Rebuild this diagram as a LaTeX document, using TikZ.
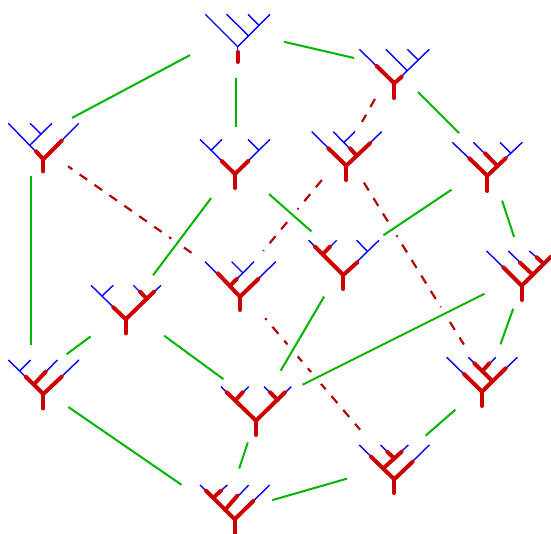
\documentclass[tikz,border=0pt]{standalone}
\usepackage{tikz}
\definecolor{leafblue}{RGB}{0,0,255}
\definecolor{trunkred}{RGB}{204,0,0}
\definecolor{hiddenred}{RGB}{176,0,0}
\definecolor{edgegreen}{RGB}{0,180,0}
\tikzset{leaf/.style = {draw=leafblue, line width=1.05pt}}
\tikzset{trunk/.style = {draw=trunkred, line width=3pt, line cap=round, line join=round}}
\tikzset{gap/.style 2 args = {shorten <=#1*0.75pt, shorten >=#2*0.75pt}}
\tikzset{front/.style = {draw=edgegreen, line width=1.5pt, preaction={draw=white, line width=11pt}}}
\tikzset{hidden/.style = {draw=hiddenred, line width=1.6pt, dash pattern=on 6.9pt off 6.75pt}}

\begin{document}
\begin{tikzpicture}[x=0.75pt, y=-0.75pt]
      \useasboundingbox (0, 0) rectangle (551, 534);

      \coordinate (top) at (236, 30.7);
      \coordinate (upright) at (393, 67);
      \coordinate (midtop) at (236, 165);
      \coordinate (back) at (345, 152);
      \coordinate (upleft) at (30.5, 140);
      \coordinate (farright) at (490, 164);
      \coordinate (midleft) at (127.7, 309);
      \coordinate (centre) at (236, 284);
      \coordinate (midright) at (345, 261);
      \coordinate (edgeright) at (526, 273);
      \coordinate (lowleft) at (30.5, 381);
      \coordinate (mid) at (260, 406);
      \coordinate (bottom) at (224, 514);
      \coordinate (lowmid) at (391, 466);
      \coordinate (lowright) at (487, 382);

      % hidden edges
      \draw [hidden, gap={36.7}{34.5}] (upright) -- (back);
      \draw [hidden, gap={36.4}{42.8}] (back) -- (centre);
      \draw [hidden, gap={36}{44}] (back) -- (lowright);
      \draw [hidden, dash phase=3pt, gap={45.8}{47}] (upleft) -- (centre);
      \draw [hidden, dash phase=5.25pt, gap={45}{47.6}] (centre) -- (lowmid);

      % front edges
      \draw [front, gap={49.3}{40}] (top) -- (upright);
      \draw [front, gap={47.3}{38}] (top) -- (midtop);
      \draw [front, gap={52}{47}] (top) -- (upleft);
      \draw [front, gap={35.4}{43.8}] (upright) -- (farright);
      \draw [front, gap={41.4}{42.2}] (midtop) -- (midleft);
      \draw [front, gap={44}{44.8}] (midtop) -- (midright);
      \draw [front, gap={36}{36}] (upleft) -- (lowleft);
      \draw [front, gap={46.2}{45}] (midleft) -- (lowleft);
      \draw [front, gap={45.2}{45.4}] (midleft) -- (mid);
      \draw [front, gap={46.3}{46.3}] (midright) -- (farright);
      \draw [front, gap={41.3}{41}] (midright) -- (mid);
      \draw [front, gap={38.6}{38.1}] (farright) -- (edgeright);
      \draw [front, gap={38}{40}] (edgeright) -- (lowright);
      \draw [front, gap={46.5}{47.6}] (edgeright) -- (mid);
      \draw [front, gap={46}{51.6}] (lowleft) -- (bottom);
      \draw [front, gap={38.5}{48}] (mid) -- (bottom);
      \draw [front, gap={50}{45.8}] (bottom) -- (lowmid);
      \draw [front, gap={46}{42}] (lowmid) -- (lowright);

      % trees, top to bottom
      \draw [leaf] (205.3, 14.3) -- (237.7, 46.7) -- (270, 14.3);
      \draw [leaf] (226.7, 14.3) -- (248.3, 35.7);
      \draw [leaf] (248, 14.3) -- (258.7, 25);
      \draw [leaf] (237.7, 46.7) -- (237.7, 51);
      \draw [trunk] (237.7, 52) -- (237.7, 62);

      \draw [leaf] (359.3, 49.3) -- (394.3, 83.3) -- (429.3, 49.3);
      \draw [leaf] (386, 49.3) -- (407.3, 70.7);
      \draw [leaf] (407.3, 49.3) -- (418.3, 60);
      \draw [trunk] (376.7, 66) -- (394.3, 83.3) -- (401.7, 76.7);
      \draw [trunk] (394.3, 83.3) -- (394.3, 98);

      \draw [leaf] (200, 139.3) -- (235, 174) -- (270, 139.3);
      \draw [leaf] (222, 139.3) -- (211, 150.3);
      \draw [leaf] (248, 139.3) -- (259, 150.3);
      \draw [trunk] (221.7, 161) -- (235, 174) -- (248.3, 161);
      \draw [trunk] (235, 174) -- (235, 188);

      \draw [leaf] (311.7, 131.7) -- (346.3, 165.7) -- (381.7, 131.7);
      \draw [leaf] (333.3, 131.7) -- (356.7, 155.7);
      \draw [leaf] (355, 131.7) -- (343.7, 142.7);
      \draw [trunk] (328.3, 148.3) -- (346.3, 165.7) -- (370, 143.3);
      \draw [trunk] (350, 148.3) -- (356.7, 155.7);
      \draw [trunk] (346.3, 165.7) -- (346.3, 180);

      \draw [leaf] (8.3, 123.3) -- (43.3, 159.3) -- (78.7, 123.3);
      \draw [leaf] (30, 123.3) -- (41, 134);
      \draw [leaf] (52, 123.3) -- (30, 145);
      \draw [trunk] (36, 151.3) -- (43.3, 159.3) -- (61.7, 140.7);
      \draw [trunk] (43.3, 159.3) -- (43.3, 171.5);

      \draw [leaf] (452.3, 142.3) -- (487.3, 175.7) -- (522.3, 142.3);
      \draw [leaf] (473.3, 142.3) -- (497.3, 165.7);
      \draw [leaf] (500, 142.3) -- (511, 153.3);
      \draw [trunk] (469.3, 158.3) -- (487.3, 175.7) -- (505.7, 158.3);
      \draw [trunk] (485, 153.3) -- (497.3, 165.7);
      \draw [trunk] (487.3, 175.7) -- (487.3, 191);

      \draw [leaf] (91, 285.3) -- (125.7, 319.3) -- (161, 285.3);
      \draw [leaf] (113.3, 285.3) -- (102, 296);
      \draw [leaf] (133.3, 285.3) -- (147, 299);
      \draw [trunk] (113.3, 307.3) -- (125.7, 319.3) -- (154, 291.7);
      \draw [trunk] (140, 291.7) -- (147, 299);
      \draw [trunk] (125.7, 319.3) -- (125.7, 333.5);

      \draw [leaf] (205, 261.7) -- (240, 296.7) -- (275.7, 261.7);
      \draw [leaf] (231.7, 261.7) -- (242.7, 272.7);
      \draw [leaf] (254, 261.7) -- (230, 286);
      \draw [trunk] (217.7, 273.3) -- (240, 296.7) -- (258.3, 279);
      \draw [trunk] (230, 286) -- (236.7, 279);
      \draw [trunk] (240, 296.7) -- (240, 310);

      \draw [leaf] (308.7, 240.3) -- (343.3, 275) -- (379, 240.3);
      \draw [leaf] (336.7, 240.3) -- (322.7, 254.3);
      \draw [leaf] (356.7, 240.3) -- (367.7, 251.7);
      \draw [trunk] (315, 246.7) -- (343.3, 275) -- (357.3, 262.3);
      \draw [trunk] (322.7, 254.3) -- (330, 246.7);
      \draw [trunk] (343.3, 275) -- (343.3, 289);

      \draw [leaf] (486.7, 251) -- (521.7, 285.7) -- (551, 256.7);
      \draw [leaf] (508.3, 251) -- (532.3, 274.3);
      \draw [leaf] (529.3, 251) -- (543.3, 263.3);
      \draw [trunk] (503.3, 267.3) -- (521.7, 285.7) -- (551, 256.7);
      \draw [trunk] (520, 262.7) -- (532.3, 274.3);
      \draw [trunk] (536.7, 257.3) -- (543.3, 263.3);
      \draw [trunk] (521.7, 285.7) -- (521.7, 300);

      \draw [leaf] (8.3, 360) -- (43.3, 394) -- (79, 360);
      \draw [leaf] (30.7, 360) -- (20, 370.7);
      \draw [leaf] (57.3, 360) -- (34.3, 384);
      \draw [trunk] (25.7, 376.7) -- (43.3, 394) -- (61.7, 376.7);
      \draw [trunk] (34.3, 384) -- (45.7, 371.7);
      \draw [trunk] (43.3, 394) -- (43.3, 408.5);

      \draw [leaf] (446.7, 357.3) -- (482, 391.7) -- (517.3, 357.3);
      \draw [leaf] (468.3, 357.3) -- (492.3, 381);
      \draw [leaf] (495.7, 357.3) -- (482.7, 370.7);
      \draw [trunk] (464, 374) -- (482, 391.7) -- (505.7, 368.3);
      \draw [trunk] (474.3, 363.3) -- (492.3, 381);
      \draw [trunk] (482.7, 370.7) -- (489.3, 363.3);
      \draw [trunk] (482, 391.7) -- (482, 406);

      \draw [leaf] (221, 386.7) -- (256, 420.7) -- (291.3, 386.7);
      \draw [leaf] (248.7, 386.7) -- (235.7, 400);
      \draw [leaf] (264, 386.7) -- (277.7, 400);
      \draw [trunk] (226.7, 392.3) -- (256, 420.7) -- (285, 392.3);
      \draw [trunk] (235.7, 400) -- (242.7, 392.3);
      \draw [trunk] (270, 392.3) -- (277.7, 400);
      \draw [trunk] (256, 420.7) -- (256, 435);

      \draw [leaf] (359.3, 445) -- (394.3, 479.3) -- (429.3, 445);
      \draw [leaf] (380.7, 445) -- (394.5, 458.7);
      \draw [leaf] (408.3, 445) -- (383.3, 468.3);
      \draw [trunk] (371, 456.7) -- (394.3, 479.3) -- (412.7, 461.7);
      \draw [trunk] (383.3, 468.3) -- (401.7, 451.7);
      \draw [trunk] (387.3, 451.7) -- (394.5, 458.7);
      \draw [trunk] (394.3, 479.3) -- (394.3, 493);

      \draw [leaf] (200, 485) -- (234.7, 519.3) -- (269.7, 485);
      \draw [leaf] (227.3, 485) -- (213.3, 497.7);
      \draw [leaf] (248.7, 485) -- (225, 510);
      \draw [trunk] (206, 490.7) -- (234.7, 519.3) -- (253.3, 501);
      \draw [trunk] (213.3, 497.7) -- (221, 490.7);
      \draw [trunk] (225, 510) -- (237.3, 495.7);
      \draw [trunk] (234.7, 519.3) -- (234.7, 534);
\end{tikzpicture}
\end{document}
